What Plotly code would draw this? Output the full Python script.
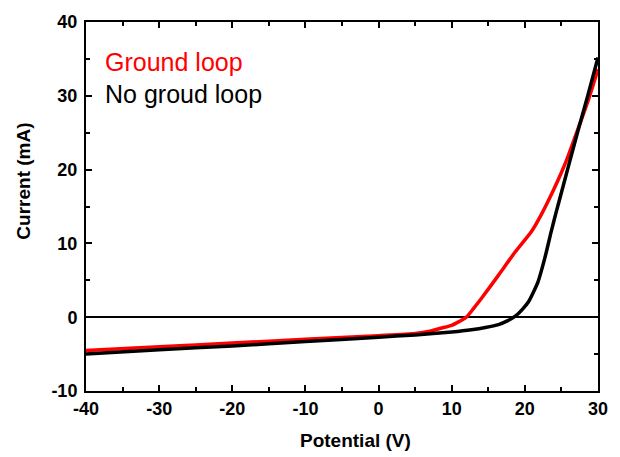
import plotly.graph_objects as go

# Ground loop (red)
v_ground = [-40, -30, -20, -10, 0, 5, 7, 8.5, 10, 11, 12, 13, 14.1, 16.4, 18.65, 20.9, 22.3, 23.9, 25.0, 25.9, 27.3, 28.6, 30]
i_ground = [-4.5, -4.0, -3.5, -3.0, -2.5, -2.2, -1.9, -1.5, -1.1, -0.6, 0.0, 1.2, 2.6, 5.7, 8.8, 11.6, 14.0, 17.2, 19.6, 21.8, 25.6, 29.2, 33.6]

# No groud loop (black)
v_noground = [-40, -30, -20, -10, 0, 5, 10, 12.7, 14.6, 16.4, 17.6, 18.65, 19.6, 20.5, 21.8, 22.7, 23.6, 24.3, 25.0, 26.0, 27.3, 28.6, 30]
i_noground = [-5.0, -4.4, -3.9, -3.3, -2.7, -2.4, -2.0, -1.7, -1.4, -1.0, -0.5, 0.1, 1.0, 2.1, 4.8, 7.9, 11.6, 14.3, 16.9, 20.6, 25.4, 30.0, 35.2]

x_ticks = [-40, -30, -20, -10, 0, 10, 20, 30]
x_labels = ["-40", "-30", "-20", "-10", "0", "10", "20", "30"]
y_ticks = [-10, 0, 10, 20, 30, 40]
y_labels = ["-10", "0", "10", "20", "30", "40"]

fig = go.Figure()
fig.add_trace(go.Scatter(x=v_ground, y=i_ground, mode="lines",
                         line=dict(color="#ff0000", width=3.5, shape="spline", smoothing=0.6),
                         name="Ground loop"))
fig.add_trace(go.Scatter(x=v_noground, y=i_noground, mode="lines",
                         line=dict(color="#000000", width=3.5, shape="spline", smoothing=0.6),
                         name="No groud loop"))

fam = "Liberation Sans, Arial, sans-serif"
tickfont = dict(family=fam, size=18, color="black", weight="bold")
fig.update_layout(
    width=620, height=457,
    margin=dict(l=86, r=20, t=18, b=66),
    paper_bgcolor="white", plot_bgcolor="white",
    showlegend=False,
    font=dict(family=fam, size=18, color="black"),
    xaxis=dict(range=[-40, 30], tickvals=x_ticks, ticktext=x_labels, ticks="inside", ticklen=6, tickwidth=2,
               tickcolor="black", showline=True, linecolor="black", linewidth=2,
               mirror="allticks", showgrid=False, zeroline=False, tickfont=tickfont,
               minor=dict(dtick=5, ticks="inside", ticklen=4, tickwidth=2, tickcolor="black", showgrid=False)),
    yaxis=dict(range=[-10, 40], tickvals=y_ticks, ticktext=y_labels, ticks="inside", ticklen=6, tickwidth=2,
               tickcolor="black", showline=True, linecolor="black", linewidth=2,
               mirror="allticks", showgrid=False, zeroline=True, zerolinecolor="black", zerolinewidth=1.5,
               tickfont=tickfont, ticklabelstandoff=3,
               minor=dict(dtick=5, ticks="inside", ticklen=4, tickwidth=2, tickcolor="black", showgrid=False)),
)

fig.add_annotation(text="Potential (V)", xref="paper", yref="paper", x=0.527, y=-0.134,
                   xanchor="center", yanchor="middle", showarrow=False,
                   font=dict(family=fam, size=19, color="black", weight="bold"))
fig.add_annotation(text="Current (mA)", xref="paper", yref="paper", x=-0.1226, y=0.568,
                   xanchor="center", yanchor="middle", textangle=-90, showarrow=False,
                   font=dict(family=fam, size=19, color="black", weight="bold"))
fig.add_annotation(text="Ground loop", xref="paper", yref="paper", x=0.033, y=(391 - 58) / 373,
                   xanchor="left", yanchor="middle", showarrow=False,
                   font=dict(family=fam, size=25, color="#ff0000"))
fig.add_annotation(text="No groud loop", xref="paper", yref="paper", x=0.033, y=(391 - 91) / 373,
                   xanchor="left", yanchor="middle", showarrow=False,
                   font=dict(family=fam, size=25, color="black"))

fig.write_html("out.html")
